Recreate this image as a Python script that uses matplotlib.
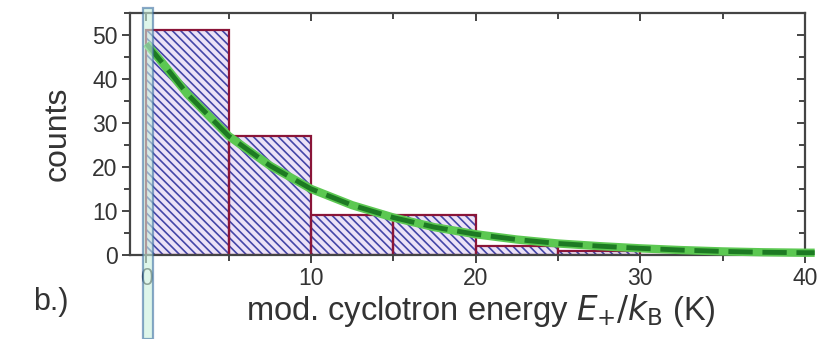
import numpy as np
import matplotlib.pyplot as plt
from matplotlib.patches import Rectangle
from matplotlib.ticker import MultipleLocator

plt.rcParams['font.family'] = ['Liberation Sans', 'DejaVu Sans']
plt.rcParams['hatch.linewidth'] = 1.2

# histogram bins (K) and counts
bin_edges = [0, 5, 10, 15, 20, 25, 30, 35, 40]
counts = [51, 27, 9, 9, 2, 1, 0, 0]

# exponential fit
fit_E = [0, 1, 2.5, 5, 7.5, 10, 12.5, 15, 17.5, 20, 22.5, 25, 27.5, 30, 32.5, 35, 37.5, 40, 40.6]
fit_counts = [48, 43.5, 36.5, 27, 20.3, 15, 11.3, 8.5, 6.3, 4.7, 3.5, 2.6, 2.0, 1.5, 1.1, 0.8, 0.6, 0.5, 0.5]

fig = plt.figure(figsize=(8.28, 3.39), dpi=100)
ax = fig.add_axes([0.157, 0.248, 0.815, 0.714])

widths = np.diff(bin_edges)
# hatched fill first, then the red outlines on top
ax.bar(bin_edges[:-1], counts, width=widths, align='edge',
       facecolor='#ece2f7', edgecolor='#4446a8', linewidth=0,
       hatch='\\\\\\\\', zorder=2)
ax.bar(bin_edges[:-1], counts, width=widths, align='edge',
       facecolor='none', edgecolor='#8a1538', linewidth=1.6, zorder=2.5)

ax.plot(fit_E, fit_counts, color='#5cc852', lw=6, solid_capstyle='butt',
        clip_on=False, zorder=3)
ax.plot(fit_E, fit_counts, color='#1d7a23', lw=3.5, ls=(0, (5, 2)),
        clip_on=False, zorder=4)

ax.set_xlim(-1, 40)
ax.set_ylim(0, 55)
ax.xaxis.set_major_locator(MultipleLocator(10))
ax.xaxis.set_minor_locator(MultipleLocator(5))
ax.yaxis.set_major_locator(MultipleLocator(10))
ax.yaxis.set_minor_locator(MultipleLocator(5))

for s in ax.spines.values():
    s.set_color('#444444')
    s.set_linewidth(1.6)

ax.tick_params(which='both', direction='out', colors='#444444', width=1.4,
               labelsize=16.5, labelcolor='#333333')
ax.tick_params(which='major', length=6, pad=3)
ax.tick_params(which='minor', length=4)
# mirrored ticks on top and right point inward
ax2 = ax.secondary_xaxis('top')
ax2.xaxis.set_major_locator(MultipleLocator(10))
ax2.xaxis.set_minor_locator(MultipleLocator(5))
ax2.tick_params(which='both', direction='in', labeltop=False, colors='#444444', width=1.4)
ax2.tick_params(which='major', length=6)
ax2.tick_params(which='minor', length=4)
ax3 = ax.secondary_yaxis('right')
ax3.yaxis.set_major_locator(MultipleLocator(10))
ax3.yaxis.set_minor_locator(MultipleLocator(5))
ax3.tick_params(which='both', direction='in', labelright=False, colors='#444444', width=1.4)
ax3.tick_params(which='major', length=6)
ax3.tick_params(which='minor', length=4)
ax2.spines['top'].set_visible(False)
ax3.spines['right'].set_visible(False)

ax.set_ylabel('counts', fontsize=23, color='#333333', labelpad=14)
ax.set_xlabel(r'mod. cyclotron energy $E_{+}/k_{\mathrm{B}}$ (K)', fontsize=23.5,
              color='#333333', labelpad=1, x=0.52)
fig.text(0.04, 0.085, 'b.)', fontsize=22, color='#333333')

# highlight strip over the zero bin
fig.patches.append(Rectangle((143 / 828, 0), 10 / 828, 1 - 8 / 339,
                             transform=fig.transFigure, facecolor='#c9f0dc',
                             edgecolor='#3d6fa3', linewidth=1.6, alpha=0.6,
                             zorder=5))

fig.savefig('out.png', dpi=100)
